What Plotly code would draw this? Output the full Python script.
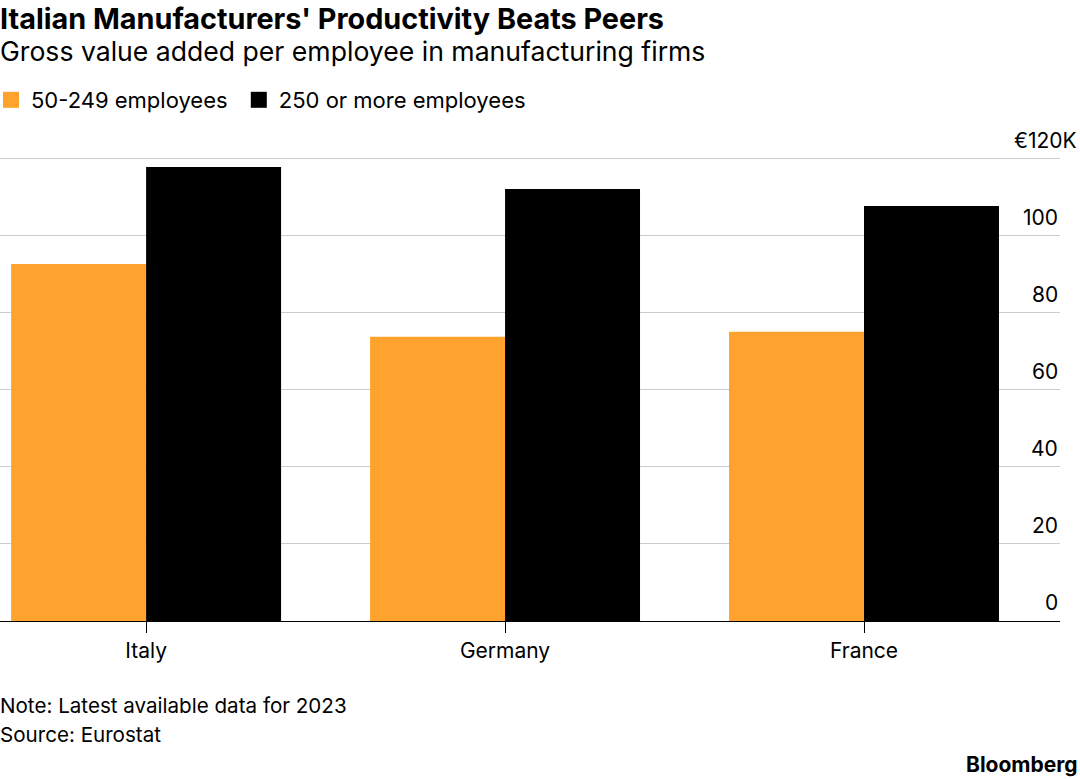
import plotly.graph_objects as go

categories = ["Italy", "Germany", "France"]
small_firms = [92.7, 73.8, 75.1]      # 50-249 employees
large_firms = [117.9, 112.2, 107.8]   # 250 or more employees
y_ticks = [0, 20, 40, 60, 80, 100, 120]
y_tick_labels = ["0", "20", "40", "60", "80", "100", "€120K"]
series_names = ["50-249 employees", "250 or more employees"]
ORANGE = "#FFA22E"
BLACK = "#000000"

FONT = "Inter"
W, H = 1080, 779
ML, MR, MT, MB = 0, 20, 157, 158
PH = H - MT - MB
PW = W - ML - MR

fig = go.Figure()
fig.add_trace(go.Bar(x=categories, y=small_firms, name=series_names[0], showlegend=False,
                     marker=dict(color=ORANGE, line=dict(width=0))))
fig.add_trace(go.Bar(x=categories, y=large_firms, name=series_names[1], showlegend=False,
                     marker=dict(color=BLACK, line=dict(width=0))))
# legend proxies
for name, col in [(series_names[0] + "\u00a0", ORANGE), (series_names[1], BLACK)]:
    fig.add_trace(go.Scatter(x=[None], y=[None], mode="markers", name=name,
                             marker=dict(symbol="square", size=16, color=col)))

annotations = []
for v, lab in zip(y_ticks, y_tick_labels):
    xpos = 1.0 if lab != "€120K" else 1 + 19 / PW
    annotations.append(dict(x=xpos, xref="paper", y=v, yref="y", text=lab,
                            showarrow=False, xanchor="right", yanchor="bottom",
                            yshift=4, font=dict(size=21, color="#000", family=FONT)))

annotations += [
    dict(x=0, y=1, xref="paper", yref="paper", yshift=MT - 18, xanchor="left", yanchor="middle",
         text="<b>Italian Manufacturers' Productivity Beats Peers</b>", showarrow=False,
         font=dict(size=28.8, color="#000", family=FONT), xshift=-2),
    dict(x=0, y=1, xref="paper", yref="paper", yshift=MT - 51, xanchor="left", yanchor="middle",
         text="Gross value added per employee in manufacturing firms", showarrow=False,
         font=dict(size=26.6, color="#000", family=FONT), xshift=-2),
    dict(x=0, y=0, xref="paper", yref="paper", yshift=-(705 - 621), xanchor="left", yanchor="middle",
         text="Note: Latest available data for 2023", showarrow=False,
         font=dict(size=20.6, color="#000", family=FONT), xshift=-2),
    dict(x=0, y=0, xref="paper", yref="paper", yshift=-(734 - 621), xanchor="left", yanchor="middle",
         text="Source: Eurostat", showarrow=False,
         font=dict(size=20.6, color="#000", family=FONT), xshift=-2),
    dict(x=1 + 20 / PW, y=0, xref="paper", yref="paper", yshift=-(764 - 621),
         xanchor="right", yanchor="middle",
         text="<b>Bloomberg</b>", showarrow=False,
         font=dict(size=21, color="#000", family=FONT)),
]

fig.update_layout(
    width=W, height=H,
    margin=dict(l=ML, r=MR, t=MT, b=MB, autoexpand=False),
    paper_bgcolor="white", plot_bgcolor="white",
    barmode="group", bargap=0.248, bargroupgap=0,
    font=dict(family=FONT, size=21, color="#000"),
    showlegend=True,
    legend=dict(orientation="h", x=-9 / PW, xanchor="left", y=1 + (MT - 100) / PH, yanchor="middle",
                yref="paper", font=dict(size=22, family=FONT, color="#000"),
                bgcolor="rgba(0,0,0,0)", itemwidth=30, traceorder="normal"),
    annotations=annotations,
    xaxis=dict(range=[-0.407, 2.546], showgrid=False, showline=True, linecolor="#000",
               linewidth=1, ticks="outside", ticklen=11, tickcolor="#000", tickwidth=1,
               tickfont=dict(size=21, family=FONT, color="#000"), fixedrange=True),
    yaxis=dict(range=[0, 120.5], tickvals=y_ticks, showticklabels=False, showgrid=True,
               gridcolor="#cccccc", gridwidth=1, zeroline=False, fixedrange=True),
)

fig.write_html("out.html")
